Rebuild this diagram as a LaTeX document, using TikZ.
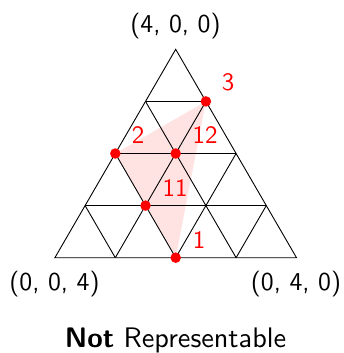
\documentclass[tikz,border=0pt]{standalone}
\begin{document}
\begin{tikzpicture}[x=1pt,y=-1pt,
  txt/.style={font=\sffamily, scale=2.5, inner sep=0pt, anchor=base},
  vlbl/.style={txt, scale=1.03},
  lbl/.style={txt, text=red},
  dot/.style={circle, fill=red, inner sep=0pt, minimum size=10.5pt},
  grid line/.style={black, line width=0.9pt}]
\useasboundingbox (0,0) rectangle (343,353);
% lattice points
\foreach \r in {0,...,4}{
  \foreach \k in {0,...,\r}{
    \coordinate (p\r\k) at ({175.7-\r*30.2+\k*60.4},{49.3+\r*52.1});
  }
}
% shaded region
\fill[red!11] (p11) -- (p20) -- (p31) -- (p42) -- cycle;
% grid
\draw[grid line] (p00) -- (p40) -- (p44) -- cycle;
\foreach \r in {1,2,3}{ \draw[grid line] (p\r0) -- (p\r\r); }
\foreach \k in {1,2,3}{ \draw[grid line] (p\k\k) -- (p4\k); }
\foreach \j in {1,2,3}{ \pgfmathtruncatemacro\m{4-\j}\draw[grid line] (p\j0) -- (p4\m); }
% points
\node[dot] (d1) at (p42) {};
\node[dot] (d11) at (p31) {};
\node[dot] (d2) at (p20) {};
\node[dot] (d12) at (p21) {};
\node[dot] (d3) at (p11) {};
% point labels
\node[lbl] (l3) at (228,90.7) {3};
\node[lbl] (l2) at (138,143.3) {2};
\node[lbl] (l12) at (205,143.3) {12};
\node[lbl] (l11) at (175,196) {11};
\node[lbl] (l1) at (199,248.3) {1};
% vertex labels
\node[vlbl] (top) at (175.5,33) {(4, 0, 0)};
\node[vlbl] (bl) at (54.5,290) {(0, 0, 4)};
\node[vlbl] (br) at (296,290) {(0, 4, 0)};
\node[txt, scale=1.13] (cap) at (175.5,347.5) {\textbf{Not} Representable};
\end{tikzpicture}
\end{document}
